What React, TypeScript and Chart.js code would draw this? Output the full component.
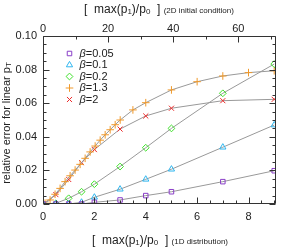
import React, { useEffect, useRef } from 'react';
import { Chart, registerables } from 'chart.js';
import { drawPoint } from 'chart.js/helpers';
Chart.register(...registerables);

// ---- data ----
const xBase = [0, 0.5, 1, 1.5, 2, 3, 4, 5, 7, 9];
const beta005 = [0, 0, 0, 0, 0.001, 0.0024, 0.005, 0.0073, 0.0133, 0.0198];
const beta01 = [0, 0, 0, 0.001, 0.004, 0.0088, 0.0147, 0.0207, 0.0338, 0.047];
const beta02 = [0, 0.0004, 0.0034, 0.0073, 0.0118, 0.0223, 0.0335, 0.045, 0.0659, 0.0833];
const beta2 = [0, 0.0056, 0.0146, 0.0246, 0.0324, 0.0446, 0.0524, 0.057, 0.0615, 0.0623];
const xOrange = [0.08, 0.275, 0.47, 0.665, 0.86, 1.055, 1.25, 1.445, 1.64, 1.835, 2.03, 2.225, 2.42, 2.615, 2.81, 3.005, 3.5, 4, 5, 6, 7, 8, 9];
const beta13 = [0.0005, 0.0024, 0.0058, 0.0093, 0.0133, 0.0168, 0.0202, 0.0236, 0.0272, 0.031, 0.0345, 0.038, 0.0412, 0.0442, 0.0472, 0.05, 0.056, 0.0603, 0.0679, 0.0728, 0.0762, 0.0782, 0.0793];

const legendLabels = ['\u03b2=0.05', '\u03b2=0.1', '\u03b2=0.2', '\u03b2=1.3', '\u03b2=2'];
const colors = ['#8a3fc8', '#2fb6ef', '#3ee02a', '#f0992a', '#ec2b2b'];
const styles = ['rect', 'triangle', 'rectRot', 'cross', 'crossRot'];
const radii = [3.2, 3.6, 3.4, 3.8, 3.6];

const xMax = 9.07;
const x2Max = 71.6;
const yMin = 0;
const yMax = 0.1;

const FONT = 'Liberation Sans, Arial, sans-serif';
const TXT = '#222';

function pts(xs: number[], ys: number[]) {
  return xs.map((x, i) => ({ x, y: ys[i] }));
}

type Seg = { t: string; size: number; dy?: number; italic?: boolean };

function drawSegs(ctx: CanvasRenderingContext2D, segs: Seg[], cx: number, cy: number, align = 'center') {
  let total = 0;
  const fontOf = (s: Seg) => `${s.italic ? 'italic ' : ''}${s.size}px ${FONT}`;
  const widths = segs.map((s) => {
    ctx.font = fontOf(s);
    const w = ctx.measureText(s.t).width;
    total += w;
    return w;
  });
  let x = align === 'center' ? cx - total / 2 : cx;
  ctx.textBaseline = 'middle';
  ctx.textAlign = 'left';
  segs.forEach((s, i) => {
    ctx.font = fontOf(s);
    ctx.fillText(s.t, x, cy + (s.dy || 0));
    x += widths[i];
  });
}

const framePlugin = {
  id: 'frameTicks',
  afterDraw(chart: any) {
    const { ctx, chartArea: a, scales } = chart;
    const L = Math.round(a.left) + 0.5;
    const R = Math.round(a.right) - 0.5;
    const T = Math.round(a.top) + 0.5;
    const B = Math.round(a.bottom) - 0.5;
    ctx.save();
    ctx.strokeStyle = '#333';
    ctx.lineWidth = 1;
    ctx.beginPath();
    ctx.rect(L, T, R - L, B - T);
    ctx.stroke();
    ctx.beginPath();
    for (let i = 0; i * 0.5 <= xMax + 1e-9; i++) {
      const v = i * 0.5;
      const px = Math.round(scales.x.getPixelForValue(v)) + 0.5;
      const len = i % 4 === 0 ? 6 : 3;
      ctx.moveTo(px, B);
      ctx.lineTo(px, B - len);
    }
    for (let i = 0; i * 10 <= x2Max + 1e-9; i++) {
      const v = i * 10;
      const px = Math.round(scales.x2.getPixelForValue(v)) + 0.5;
      const len = i % 2 === 0 ? 6 : 3;
      ctx.moveTo(px, T);
      ctx.lineTo(px, T + len);
    }
    for (let i = 0; i * 0.005 <= yMax + 1e-9; i++) {
      const v = i * 0.005;
      const py = Math.round(scales.y.getPixelForValue(v)) + 0.5;
      const len = i % 4 === 0 ? 6 : 3;
      ctx.moveTo(L, py);
      ctx.lineTo(L + len, py);
      ctx.moveTo(R, py);
      ctx.lineTo(R - len, py);
    }
    ctx.stroke();

    // legend
    legendLabels.forEach((lab, i) => {
      const y = a.top + 17.5 + i * 11.5;
      ctx.strokeStyle = colors[i];
      ctx.fillStyle = 'rgba(0,0,0,0)';
      ctx.lineWidth = 1;
      drawPoint(ctx, { pointStyle: styles[i], radius: radii[i], borderWidth: 1 } as any, L + 26, y);
      ctx.fillStyle = TXT;
      drawSegs(ctx, [
        { t: '\u03b2', size: 11, italic: true },
        { t: lab.slice(1), size: 11 },
      ], L + 36, y, 'left');
    });

    // titles
    ctx.fillStyle = TXT;
    drawSegs(ctx, [
      { t: '[  max(p', size: 12 },
      { t: '1', size: 8, dy: 2 },
      { t: ')/p', size: 12 },
      { t: '0', size: 8, dy: 2 },
      { t: '  ] ', size: 12 },
      { t: '(2D initial condition)', size: 8, dy: 1 },
    ], 159, 10);
    drawSegs(ctx, [
      { t: '[  max(p', size: 12 },
      { t: '1', size: 8, dy: 2 },
      { t: ')/p', size: 12 },
      { t: '0', size: 8, dy: 2 },
      { t: '  ] ', size: 12 },
      { t: '(1D distribution)', size: 8, dy: 1 },
    ], 160, 241);
    ctx.save();
    ctx.translate(7, 123);
    ctx.rotate(-Math.PI / 2);
    drawSegs(ctx, [
      { t: 'relative error for linear p', size: 11 },
      { t: 'T', size: 8, dy: 2 },
    ], 0, 0);
    ctx.restore();
    ctx.restore();
  },
};

export default function App() {
  const ref = useRef<HTMLCanvasElement>(null);
  useEffect(() => {
    if (!ref.current) return;
    const mk = (data: any[], i: number) => ({
      label: legendLabels[i],
      data,
      showLine: true,
      borderColor: '#999999',
      borderWidth: 1,
      pointStyle: styles[i],
      pointRadius: radii[i],
      pointBorderColor: colors[i],
      pointBackgroundColor: 'rgba(0,0,0,0)',
      pointBorderWidth: 1,
      tension: 0,
    });
    const chart = new Chart(ref.current, {
      type: 'scatter',
      data: {
        datasets: [
          mk(pts(xBase, beta005), 0),
          mk(pts(xBase, beta01), 1),
          mk(pts(xBase, beta02), 2),
          mk(pts(xOrange, beta13), 3),
          mk(pts(xBase, beta2), 4),
        ],
      },
      options: {
        animation: false,
        responsive: false,
        layout: { padding: { left: 0, right: 15, top: 0, bottom: 0 } },
        plugins: { legend: { display: false }, tooltip: { enabled: false } },
        scales: {
          x: {
            type: 'linear',
            position: 'bottom',
            min: 0,
            max: xMax,
            grid: { display: false, drawTicks: false },
            border: { display: false },
            ticks: { stepSize: 2, includeBounds: false, padding: 6, color: TXT, font: { family: FONT, size: 11 }, maxRotation: 0 },
            afterFit: (s: any) => { s.height = 43; },
          },
          x2: {
            type: 'linear',
            position: 'top',
            min: 0,
            max: x2Max,
            grid: { display: false, drawTicks: false },
            border: { display: false },
            ticks: { stepSize: 20, includeBounds: false, padding: 0, color: TXT, font: { family: FONT, size: 11 }, maxRotation: 0 },
            afterFit: (s: any) => { s.height = 36; },
          },
          y: {
            type: 'linear',
            min: yMin,
            max: yMax,
            grid: { display: false, drawTicks: false },
            border: { display: false },
            ticks: {
              stepSize: 0.02,
              padding: 6,
              color: TXT,
              font: { family: FONT, size: 11 },
              callback: (v: any) => Number(v).toFixed(2),
            },
            afterFit: (s: any) => { s.width = 43; },
          },
        },
      },
      plugins: [framePlugin],
    });
    return () => chart.destroy();
  }, []);
  return (
    <div style={{ position: 'fixed', left: 0, top: 0, width: 291, height: 247, background: '#fff' }}>
      <canvas ref={ref} width={291} height={247} style={{ display: 'block', width: 291, height: 247 }} />
    </div>
  );
}
